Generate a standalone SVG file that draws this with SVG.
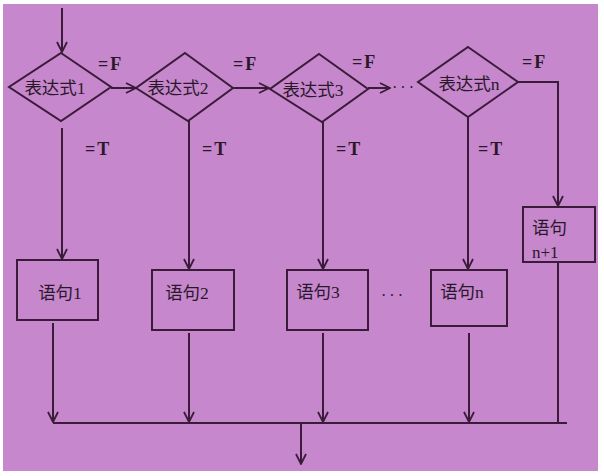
<svg xmlns="http://www.w3.org/2000/svg" width="604" height="476" viewBox="0 0 604 476">
<defs>
<marker id="arr" viewBox="0 0 12 12" refX="11" refY="6" markerWidth="12" markerHeight="12" markerUnits="userSpaceOnUse" orient="auto">
<path d="M1,1 L11,6 L1,11" fill="none" stroke="#3a1c3a" stroke-width="1.8"/>
</marker>
<style>
.shape{fill:none;stroke:#3a1c3a;stroke-width:2}
.ln{fill:none;stroke:#3a1c3a;stroke-width:2}
.cn{font-family:"Liberation Serif","Noto Sans CJK SC",serif;font-size:17.5px;fill:#2a182a}
.lb{font-family:"Liberation Serif",serif;font-size:18px;font-weight:bold;fill:#2a182a;letter-spacing:2px}
.dots{font-family:"Liberation Serif",serif;font-size:16px;fill:#2a182a;letter-spacing:3px}
</style>
</defs>
<rect x="0" y="0" width="604" height="476" fill="#ffffff"/>
<rect x="3" y="4" width="595" height="467" fill="#c687cc"/>

<g id="connectors">
<line class="ln" x1="62" y1="8" x2="62" y2="52" marker-end="url(#arr)"/>
<line class="ln" x1="111" y1="88" x2="136" y2="88" marker-end="url(#arr)"/>
<line class="ln" x1="233" y1="88" x2="269" y2="88" marker-end="url(#arr)"/>
<line class="ln" x1="368" y1="88" x2="390" y2="88" marker-end="url(#arr)"/>
<polyline class="ln" points="518,82 558,82 558,206" marker-end="url(#arr)"/>
<line class="ln" x1="62" y1="128" x2="62" y2="259" marker-end="url(#arr)"/>
<line class="ln" x1="189" y1="121" x2="189" y2="269" marker-end="url(#arr)"/>
<line class="ln" x1="323" y1="122" x2="323" y2="269" marker-end="url(#arr)"/>
<line class="ln" x1="468" y1="117" x2="468" y2="269" marker-end="url(#arr)"/>
<line class="ln" x1="53" y1="323" x2="53" y2="422" marker-end="url(#arr)"/>
<line class="ln" x1="189" y1="333" x2="189" y2="422" marker-end="url(#arr)"/>
<line class="ln" x1="323" y1="333" x2="323" y2="422" marker-end="url(#arr)"/>
<line class="ln" x1="469" y1="333" x2="469" y2="422" marker-end="url(#arr)"/>
<line class="ln" x1="558" y1="262" x2="558" y2="423"/>
<line class="ln" x1="53" y1="423" x2="567" y2="423"/>
<line class="ln" x1="301" y1="423" x2="301" y2="464" marker-end="url(#arr)"/>
<text class="dots" x="392" y="93">···</text>
<text class="dots" x="381" y="301">···</text>
<text class="lb" x="98" y="70">=F</text>
<text class="lb" x="233" y="70">=F</text>
<text class="lb" x="352" y="68">=F</text>
<text class="lb" x="522" y="68">=F</text>
<text class="lb" x="85" y="155">=T</text>
<text class="lb" x="202" y="155">=T</text>
<text class="lb" x="336" y="155">=T</text>
<text class="lb" x="478" y="155">=T</text>
</g>

<g id="cond1">
<polygon class="shape" points="61,53 111,87 61,121 9,87"/>
<text class="cn" x="55" y="94" text-anchor="middle">表达式1</text>
</g>
<g id="cond2">
<polygon class="shape" points="185,53 233,88 188,121 136,88"/>
<text class="cn" x="178" y="94" text-anchor="middle">表达式2</text>
</g>
<g id="cond3">
<polygon class="shape" points="319,54 368,89 322,122 270,89"/>
<text class="cn" x="313" y="96" text-anchor="middle">表达式3</text>
</g>
<g id="condn">
<polygon class="shape" points="468,47 518,82 468,117 418,82"/>
<text class="cn" x="469" y="90" text-anchor="middle">表达式n</text>
</g>

<g id="stmt1">
<rect class="shape" x="17" y="260" width="81" height="60"/>
<text class="cn" x="60" y="299" text-anchor="middle">语句1</text>
</g>
<g id="stmt2">
<rect class="shape" x="152" y="270" width="82" height="60"/>
<text class="cn" x="187" y="299" text-anchor="middle">语句2</text>
</g>
<g id="stmt3">
<rect class="shape" x="287" y="270" width="81" height="60"/>
<text class="cn" x="318" y="298" text-anchor="middle">语句3</text>
</g>
<g id="stmtn">
<rect class="shape" x="431" y="270" width="76" height="56"/>
<text class="cn" x="462" y="298" text-anchor="middle">语句n</text>
</g>
<g id="stmtn1">
<rect class="shape" x="523" y="207" width="72" height="55"/>
<text class="cn" x="532" y="234">语句</text>
<text class="cn" x="532" y="258" style="font-size:17px">n+1</text>
</g>
</svg>
